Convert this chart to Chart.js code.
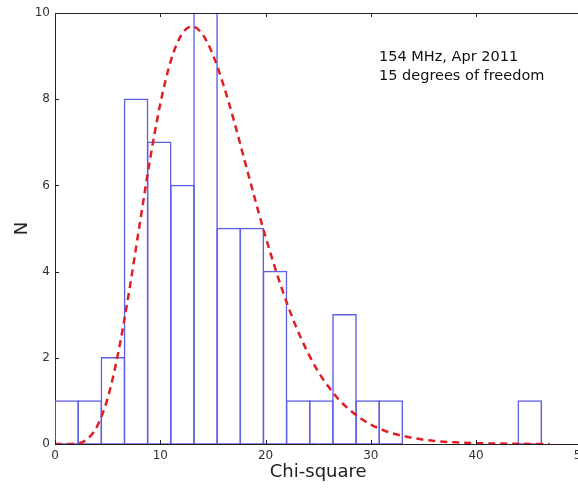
<!DOCTYPE html>
<html>
<head>
<meta charset="utf-8">
<script src="https://cdn.jsdelivr.net/npm/chart.js@4"></script>
<style>
  html, body { margin: 0; padding: 0; background: #fff; overflow: hidden; }
  #box { width: 594px; height: 489px; }
</style>
</head>
<body>
<div id="box"><canvas id="chiChart" width="594" height="489"></canvas></div>
<script>
// histogram bins (left edges, width 2.2) and counts
const binStart = 0;
const binWidth = 2.2;
const contagens = [1, 1, 2, 8, 7, 6, 10, 5, 5, 4, 1, 1, 3, 1, 1, 0, 0, 0, 0, 0, 1];

// chi-square curve
const curvaX = [0, 1, 2, 3, 4, 5, 6, 7, 8, 9, 10, 11, 12, 13, 14, 15, 16, 17, 18, 19, 20,
  21, 22, 23, 24, 25, 26, 27, 28, 29, 30, 31, 32, 33, 34, 35, 36, 38, 40, 42, 44, 46, 47];
const curvaY = [0, 0, 0.01, 0.10, 0.41, 1.06, 2.11, 3.48, 5.03, 6.56, 7.89, 8.89, 9.49, 9.69, 9.51,
  9.03, 8.33, 7.50, 6.59, 5.68, 4.81, 4.01, 3.29, 2.66, 2.13, 1.68, 1.32, 1.02, 0.79, 0.60, 0.45,
  0.34, 0.25, 0.19, 0.14, 0.10, 0.07, 0.04, 0.02, 0.01, 0.005, 0.002, 0.002];

const textoNota = ['154 MHz, Apr 2011', '15 degrees of freedom'];

let barras = [];
for (i = 0; i < contagens.length; i++) {
    barras.push({ x: binStart + binWidth * (i + 0.5), y: contagens[i] });
}
let linha = [];
for (i = 0; i < curvaX.length; i++) {
    linha.push({ x: curvaX[i], y: curvaY[i] });
}

const fonte = 'DejaVu Sans';

// spines, inward ticks and the note text
const eixosPlugin = {
    id: 'eixos',
    afterDraw(chart) {
        const ctx = chart.ctx;
        const a = chart.chartArea;
        const sx = chart.scales.x, sy = chart.scales.y;
        ctx.save();
        ctx.strokeStyle = '#222';
        ctx.lineWidth = 1;
        ctx.beginPath();
        ctx.moveTo(a.left, a.top + 0.5);
        ctx.lineTo(a.right, a.top + 0.5);
        sx.ticks.forEach(t => {
            const px = Math.round(sx.getPixelForValue(t.value)) + 0.5;
            ctx.moveTo(px, a.bottom); ctx.lineTo(px, a.bottom - 4);
            ctx.moveTo(px, a.top); ctx.lineTo(px, a.top + 4);
        });
        sy.ticks.forEach(t => {
            const py = Math.round(sy.getPixelForValue(t.value)) + 0.5;
            ctx.moveTo(a.left, py); ctx.lineTo(a.left + 4, py);
        });
        ctx.stroke();
        ctx.fillStyle = '#111';
        ctx.font = '14.5px ' + fonte;
        ctx.textBaseline = 'middle';
        ctx.fillText(textoNota[0], 379, 57);
        ctx.fillText(textoNota[1], 379, 76);
        ctx.restore();
    }
};

const config = {
    data: {
        datasets: [{
            type: 'line',
            data: linha,
            borderColor: 'rgb(225, 30, 40)',
            borderWidth: 2.5,
            borderDash: [7, 5],
            pointRadius: 0,
            cubicInterpolationMode: 'monotone',
            order: 0
        }, {
            type: 'bar',
            data: barras,
            backgroundColor: 'rgba(0,0,0,0)',
            borderColor: 'rgb(95, 95, 230)',
            // tiny border + inflate gives an outline centred on the bin edge
            borderWidth: 0.01,
            inflateAmount: 0.75,
            borderSkipped: false,
            barPercentage: 1,
            categoryPercentage: 1,
            order: 1
        }]
    },
    options: {
        responsive: false,
        animation: false,
        layout: { padding: { top: 13, right: 10, left: 0, bottom: 0 } },
        plugins: { legend: { display: false }, tooltip: { enabled: false } },
        scales: {
            x: {
                type: 'linear',
                min: 0, max: 50,
                offset: false,
                grid: { display: false, drawTicks: false },
                border: { display: true, color: '#222', width: 1 },
                ticks: { stepSize: 10, padding: 5, color: '#333', font: { family: fonte, size: 12 } },
                title: { display: true, text: 'Chi-square', color: '#222', font: { family: fonte, size: 18 }, padding: { top: 0, bottom: 6 } },
                afterFit(scale) { scale.height = 45; }
            },
            y: {
                min: 0, max: 10,
                grid: { display: false, drawTicks: false },
                border: { display: true, color: '#222', width: 1 },
                ticks: { stepSize: 2, padding: 5, color: '#333', font: { family: fonte, size: 12 } },
                title: { display: true, text: 'N', color: '#222', font: { family: fonte, size: 18 }, padding: { top: 12, bottom: 0 } },
                afterFit(scale) { scale.width = 55; }
            }
        }
    },
    plugins: [eixosPlugin]
};

var ctx = document.getElementById('chiChart').getContext('2d');
let meuGrafico = new Chart(ctx, config);
</script>
</body>
</html>
